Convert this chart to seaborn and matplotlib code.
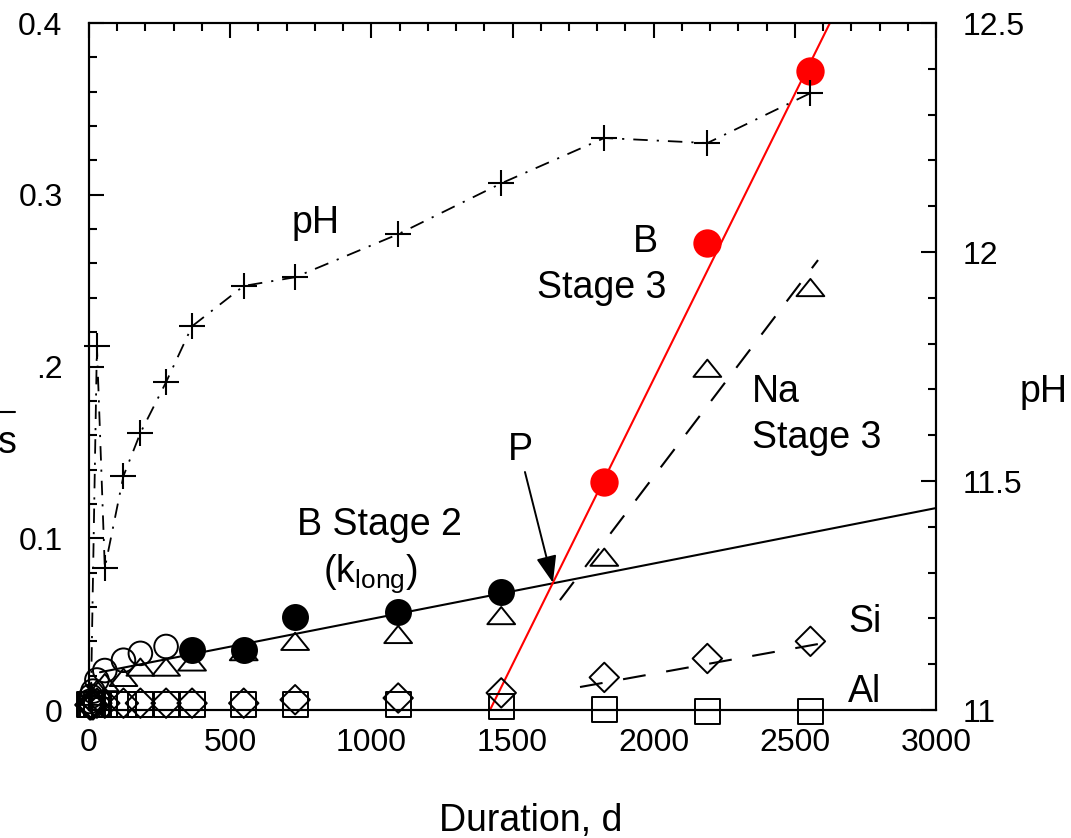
import numpy as np
import pandas as pd
import seaborn as sns
import matplotlib.pyplot as plt
from matplotlib.path import Path
from matplotlib.lines import Line2D
from matplotlib.ticker import MultipleLocator, FixedLocator, FixedFormatter

sns.set_style('white')
plt.rcParams['font.family'] = ['Liberation Sans', 'DejaVu Sans']
plt.rcParams['mathtext.fontset'] = 'custom'
plt.rcParams['mathtext.rm'] = 'Liberation Sans'
plt.rcParams['mathtext.it'] = 'Liberation Sans:italic'
plt.rcParams['text.color'] = 'black'
plt.rcParams['xtick.color'] = 'black'
plt.rcParams['ytick.color'] = 'black'
plt.rcParams['axes.labelcolor'] = 'black'

# B (boron): early open circles, stage 2 filled black, stage 3 filled red
b_open_days = [3, 7, 14, 28, 56, 122, 182, 273]
b_open = [0.005, 0.008, 0.011, 0.0175, 0.023, 0.029, 0.033, 0.037]
b_s2_days = [365, 548, 730, 1095, 1460]
b_s2 = [0.035, 0.035, 0.054, 0.057, 0.069]
b_s3_days = [1825, 2190, 2555]
b_s3 = [0.133, 0.272, 0.372]

# Na triangles
na_days = [14, 28, 56, 122, 182, 273, 365, 548, 730, 1095, 1460, 1825, 2190, 2555]
na = [0.008, 0.012, 0.016, 0.019, 0.025, 0.025, 0.028, 0.034, 0.040, 0.044, 0.055, 0.089, 0.199, 0.246]

# Si diamonds
si_days = [3, 7, 14, 28, 56, 122, 182, 273, 365, 548, 730, 1095, 1460, 1825, 2190, 2555]
si = [0.003, 0.003, 0.003, 0.004, 0.004, 0.004, 0.004, 0.004, 0.004, 0.004, 0.006, 0.007, 0.010, 0.019, 0.030, 0.040]

# Al squares
al_days = [3, 7, 14, 28, 56, 122, 182, 273, 365, 548, 730, 1095, 1460, 1825, 2190, 2555]
al = [0.0035, 0.0035, 0.0035, 0.0035, 0.0035, 0.0035, 0.0035, 0.0035, 0.0035, 0.0035, 0.0035, 0.003, 0.002, 0.0006, -0.001, -0.001]

# pH (right axis)
ph_days = [7, 28, 56, 122, 182, 273, 365, 548, 730, 1095, 1460, 1825, 2190, 2555]
ph = [11.03, 11.795, 11.31, 11.511, 11.605, 11.716, 11.838, 11.926, 11.945, 12.039, 12.15, 12.249, 12.238, 12.347]

# fitted lines
s2_fit_x = [39, 3000]
s2_fit_y = [0.022, 0.1176]
s3_fit_x = [1420, 2624]
s3_fit_y = [0.0, 0.4]
na_fit_x = [1668, 2582]
na_fit_y = [0.064, 0.262]
si_fit_x = [1739, 2635]
si_fit_y = [0.0134, 0.040]

fig = plt.figure(figsize=(10.71, 8.38), dpi=100)
ax = fig.add_axes([0.0831, 0.1527, 0.7909, 0.8198])
ax2 = ax.twinx()

lw = 1.5
tri = Path([(-1, -0.62), (1, -0.62), (0, 0.62), (-1, -0.62)], closed=True)

# lines
sns.lineplot(x=s2_fit_x, y=s2_fit_y, ax=ax, color='black', lw=lw)
sns.lineplot(x=s3_fit_x, y=s3_fit_y, ax=ax, color='#ff0000', lw=lw)
sns.lineplot(x=na_fit_x, y=na_fit_y, ax=ax, color='black', lw=lw, linestyle=(0, (11, 9)))
sns.lineplot(x=si_fit_x, y=si_fit_y, ax=ax, color='black', lw=lw, linestyle=(0, (11, 10)))

# markers
mk = dict(ax=ax, clip_on=False, linewidth=1.4, zorder=3)
sns.scatterplot(x=al_days, y=al, marker='s', s=18**2, facecolor='none', edgecolor='black', **mk)
sns.scatterplot(x=si_days, y=si, marker='D', s=15**2, facecolor='none', edgecolor='black', **mk)
sns.scatterplot(x=na_days, y=na, marker=tri, s=20**2, facecolor='none', edgecolor='black', **mk)
sns.scatterplot(x=b_open_days, y=b_open, marker='o', s=17**2, facecolor='none', edgecolor='black', **mk)
sns.scatterplot(x=b_s2_days, y=b_s2, marker='o', s=18**2, color='black', edgecolor='black', **mk)
sns.scatterplot(x=b_s3_days, y=b_s3, marker='o', s=19**2, color='#ff0000', edgecolor='#ff0000', **mk)

# pH
sns.lineplot(x=ph_days, y=ph, ax=ax2, color='black', lw=1.3, linestyle=(0, (8, 5, 1.2, 5)))
sns.scatterplot(x=ph_days, y=ph, ax=ax2, marker='+', s=19**2, color='black', linewidth=1.5, clip_on=False)

# axes setup
ax.set_xlim(0, 3000)
ax.set_ylim(0, 0.4)
ax2.set_ylim(11, 12.5)

ax.xaxis.set_major_locator(MultipleLocator(500))
ax.xaxis.set_minor_locator(MultipleLocator(100))
ax.yaxis.set_major_locator(FixedLocator([0, 0.1, 0.2, 0.3, 0.4]))
ax.yaxis.set_major_formatter(FixedFormatter(['0', '0.1', '.2', '0.3', '0.4']))
ax.yaxis.set_minor_locator(MultipleLocator(0.02))
ax2.yaxis.set_major_locator(FixedLocator([11, 11.5, 12, 12.5]))
ax2.yaxis.set_major_formatter(FixedFormatter(['11', '11.5', '12', '12.5']))
ax2.yaxis.set_minor_locator(MultipleLocator(0.1))

ax.tick_params(axis='both', which='both', direction='in', width=1.5, labelsize=23,
               top=True, right=False, colors='black')
ax.tick_params(which='major', length=11)
ax.tick_params(which='minor', length=6)
ax.tick_params(axis='y', pad=19)
ax.tick_params(axis='x', pad=13)
ax2.tick_params(axis='y', which='both', direction='in', width=1.5, labelsize=23, pad=19,
                colors='black')
ax2.tick_params(axis='y', which='major', length=11)
ax2.tick_params(axis='y', which='minor', length=6)

for a in (ax, ax2):
    for sp in a.spines.values():
        sp.set_linewidth(1.5)
        sp.set_color('black')
ax.set_xlabel('')
ax.set_ylabel('')
ax2.set_ylabel('')

# annotations
fs = 27
ax.text(719, 0.278, 'pH', fontsize=fs, va='baseline')
ax.text(1927, 0.2667, 'B', fontsize=fs, va='baseline')
ax.text(1587, 0.240, 'Stage 3', fontsize=fs, va='baseline')
ax.text(2348, 0.1793, 'Na', fontsize=fs, va='baseline')
ax.text(2348, 0.1525, 'Stage 3', fontsize=fs, va='baseline')
ax.text(1484, 0.1456, 'P', fontsize=fs, va='baseline')
ax.text(737, 0.1019, 'B Stage 2', fontsize=fs, va='baseline')
ax.text(829, 0.0745, r'(k$_{\mathrm{long}}$)', fontsize=fs, va='baseline')
ax.text(2688, 0.0454, 'Si', fontsize=fs, va='baseline')
ax.text(2688, 0.0047, 'Al', fontsize=fs, va='baseline')
ax.annotate('', xy=(1643, 0.0741), xytext=(1544, 0.1386),
            arrowprops=dict(arrowstyle='-|>,head_length=0.66,head_width=0.25',
                            mutation_scale=25, color='black', lw=1.4,
                            shrinkA=0, shrinkB=0))

fig.text(531 / 1071, 1 - 821 / 838, 'Duration, d', fontsize=fs, ha='center', va='center')
fig.text(1020 / 1071, 1 - 392 / 838, 'pH', fontsize=fs, ha='left', va='center')
fig.text(-0.002, 1 - 443 / 838, 's', fontsize=fs, ha='left', va='center')
fig.add_artist(Line2D([0, 15 / 1071], [1 - 412 / 838] * 2, transform=fig.transFigure,
                      color='black', lw=1.5))

fig.savefig('out.png', dpi=100)
